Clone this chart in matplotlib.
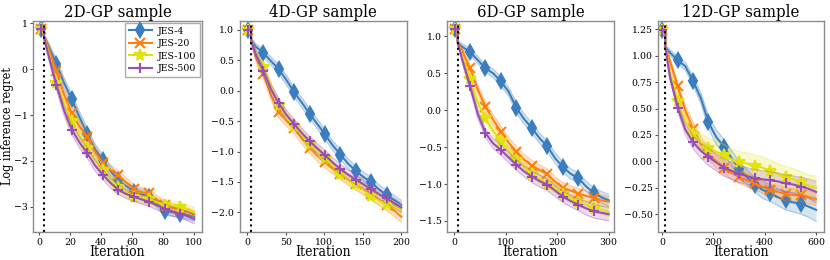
import numpy as np
import matplotlib
matplotlib.use("Agg")
import matplotlib.pyplot as plt

plt.rcParams['font.family'] = ['DejaVu Serif']
plt.rcParams['font.stretch'] = 'condensed'
plt.rcParams['mathtext.fontset'] = 'dejavuserif'

labels = ["JES-4", "JES-20", "JES-100", "JES-500"]
titles = ["2D-GP sample", "4D-GP sample", "6D-GP sample", "12D-GP sample"]
dims = [2, 4, 6, 12]

# ---------------- 2D ----------------
x2 = [1, 3, 3, 6, 11, 16, 21, 26, 31, 36, 41, 46, 51, 56, 61, 66, 71, 76, 81, 86, 91, 96, 100]
m2_jes4 = [0.87, 0.87, 0.72, 0.50, 0.12, -0.30, -0.66, -1.05, -1.41, -1.75, -1.98, -2.22, -2.42, -2.55, -2.67, -2.72, -2.78, -2.92, -3.09, -3.12, -3.15, -3.18, -3.22]
m2_jes20 = [0.87, 0.87, 0.72, 0.45, -0.05, -0.55, -0.96, -1.25, -1.47, -1.80, -2.05, -2.20, -2.31, -2.47, -2.61, -2.68, -2.71, -2.85, -2.96, -3.02, -3.07, -3.12, -3.17]
m2_jes100 = [0.87, 0.87, 0.70, 0.35, -0.30, -0.75, -1.14, -1.45, -1.71, -1.98, -2.20, -2.40, -2.56, -2.68, -2.78, -2.80, -2.84, -2.90, -2.96, -2.98, -3.00, -3.06, -3.12]
m2_jes500 = [0.87, 0.87, 0.70, 0.30, -0.34, -0.90, -1.32, -1.60, -1.83, -2.10, -2.30, -2.48, -2.63, -2.72, -2.78, -2.84, -2.89, -2.97, -3.04, -3.10, -3.15, -3.21, -3.27]
s2_jes4 = [0.04, 0.04, 0.06, 0.08, 0.10, 0.11, 0.12, 0.12, 0.12, 0.12, 0.11, 0.11, 0.10, 0.10, 0.10, 0.10, 0.10, 0.09, 0.09, 0.09, 0.09, 0.09, 0.09]
s2_jes20 = [0.04, 0.04, 0.06, 0.08, 0.10, 0.11, 0.12, 0.12, 0.12, 0.12, 0.11, 0.11, 0.10, 0.10, 0.10, 0.10, 0.10, 0.09, 0.09, 0.09, 0.09, 0.09, 0.09]
s2_jes100 = [0.04, 0.04, 0.06, 0.08, 0.10, 0.11, 0.12, 0.12, 0.12, 0.12, 0.11, 0.11, 0.10, 0.10, 0.10, 0.10, 0.10, 0.10, 0.10, 0.10, 0.10, 0.10, 0.10]
s2_jes500 = [0.04, 0.04, 0.06, 0.08, 0.10, 0.11, 0.12, 0.12, 0.12, 0.12, 0.11, 0.11, 0.10, 0.10, 0.10, 0.10, 0.10, 0.10, 0.10, 0.10, 0.10, 0.10, 0.10]

# ---------------- 4D ----------------
x4 = [1, 5, 5, 11, 21, 31, 41, 51, 61, 71, 81, 91, 101, 111, 121, 131, 141, 151, 161, 171, 181, 191, 200]
m4_jes4 = [1.00, 1.00, 0.83, 0.72, 0.62, 0.48, 0.35, 0.17, -0.03, -0.20, -0.38, -0.55, -0.72, -0.90, -1.05, -1.20, -1.32, -1.42, -1.50, -1.62, -1.72, -1.80, -1.88]
m4_jes20 = [1.00, 1.00, 0.83, 0.55, 0.27, -0.08, -0.36, -0.50, -0.62, -0.79, -0.94, -1.07, -1.18, -1.28, -1.37, -1.46, -1.54, -1.62, -1.70, -1.79, -1.88, -1.97, -2.07]
m4_jes100 = [1.00, 1.00, 0.83, 0.62, 0.38, 0.05, -0.24, -0.43, -0.58, -0.73, -0.87, -0.99, -1.10, -1.24, -1.37, -1.45, -1.53, -1.63, -1.73, -1.80, -1.86, -1.91, -1.96]
m4_jes500 = [1.00, 1.00, 0.83, 0.60, 0.32, 0.02, -0.21, -0.40, -0.55, -0.70, -0.83, -0.95, -1.06, -1.18, -1.29, -1.38, -1.46, -1.54, -1.62, -1.70, -1.77, -1.85, -1.92]
s4_jes4 = [0.02, 0.02, 0.04, 0.05, 0.06, 0.07, 0.07, 0.08, 0.08, 0.08, 0.08, 0.08, 0.08, 0.08, 0.08, 0.08, 0.08, 0.08, 0.08, 0.08, 0.08, 0.08, 0.08]
s4_jes20 = [0.02, 0.02, 0.04, 0.06, 0.07, 0.08, 0.09, 0.09, 0.09, 0.09, 0.09, 0.09, 0.09, 0.09, 0.09, 0.09, 0.09, 0.09, 0.09, 0.09, 0.09, 0.09, 0.09]
s4_jes100 = [0.02, 0.02, 0.04, 0.06, 0.07, 0.08, 0.08, 0.08, 0.08, 0.08, 0.08, 0.08, 0.08, 0.08, 0.08, 0.08, 0.08, 0.08, 0.08, 0.08, 0.08, 0.08, 0.08]
s4_jes500 = [0.02, 0.02, 0.04, 0.06, 0.07, 0.08, 0.08, 0.08, 0.08, 0.08, 0.08, 0.08, 0.08, 0.08, 0.08, 0.08, 0.08, 0.08, 0.08, 0.08, 0.08, 0.08, 0.08]

# ---------------- 6D ----------------
x6 = [1, 7, 7, 16, 31, 46, 61, 76, 91, 106, 121, 136, 151, 166, 181, 196, 211, 226, 241, 256, 271, 286, 300]
m6_jes4 = [1.10, 1.10, 0.92, 0.86, 0.79, 0.68, 0.57, 0.50, 0.39, 0.25, 0.03, -0.12, -0.24, -0.38, -0.49, -0.65, -0.77, -0.86, -0.92, -1.03, -1.12, -1.18, -1.22]
m6_jes20 = [1.10, 1.10, 0.92, 0.80, 0.57, 0.28, 0.05, -0.13, -0.29, -0.44, -0.56, -0.67, -0.75, -0.81, -0.87, -0.97, -1.05, -1.09, -1.13, -1.16, -1.19, -1.22, -1.24]
m6_jes100 = [1.10, 1.10, 0.92, 0.72, 0.42, 0.10, -0.11, -0.28, -0.41, -0.55, -0.67, -0.77, -0.86, -0.93, -1.00, -1.06, -1.13, -1.19, -1.24, -1.28, -1.32, -1.35, -1.38]
m6_jes500 = [1.10, 1.10, 0.92, 0.68, 0.33, -0.05, -0.31, -0.45, -0.54, -0.64, -0.74, -0.83, -0.90, -0.96, -1.01, -1.09, -1.17, -1.23, -1.28, -1.33, -1.37, -1.39, -1.41]
s6_jes4 = [0.02, 0.02, 0.03, 0.04, 0.05, 0.05, 0.05, 0.06, 0.06, 0.06, 0.07, 0.07, 0.07, 0.07, 0.07, 0.07, 0.07, 0.07, 0.07, 0.07, 0.07, 0.08, 0.08]
s6_jes20 = [0.02, 0.02, 0.03, 0.04, 0.05, 0.06, 0.06, 0.07, 0.07, 0.07, 0.07, 0.07, 0.07, 0.07, 0.07, 0.07, 0.07, 0.07, 0.07, 0.07, 0.07, 0.07, 0.07]
s6_jes100 = [0.02, 0.02, 0.03, 0.04, 0.05, 0.06, 0.06, 0.06, 0.06, 0.06, 0.06, 0.06, 0.06, 0.06, 0.06, 0.06, 0.06, 0.06, 0.06, 0.06, 0.06, 0.06, 0.06]
s6_jes500 = [0.02, 0.02, 0.03, 0.04, 0.05, 0.06, 0.06, 0.07, 0.07, 0.07, 0.07, 0.07, 0.08, 0.08, 0.08, 0.08, 0.08, 0.08, 0.08, 0.09, 0.09, 0.09, 0.09]

# ---------------- 12D ----------------
x12 = [1, 13, 13, 31, 61, 91, 121, 151, 181, 211, 241, 271, 301, 331, 361, 391, 421, 451, 481, 511, 541, 571, 600]
m12_jes4 = [1.24, 1.24, 1.08, 1.03, 0.96, 0.90, 0.76, 0.60, 0.37, 0.23, 0.14, 0.03, -0.07, -0.15, -0.22, -0.27, -0.30, -0.34, -0.37, -0.39, -0.40, -0.43, -0.46]
m12_jes20 = [1.24, 1.24, 1.08, 0.95, 0.71, 0.48, 0.31, 0.17, 0.07, 0.00, -0.06, -0.11, -0.15, -0.18, -0.21, -0.24, -0.27, -0.29, -0.31, -0.32, -0.32, -0.34, -0.36]
m12_jes100 = [1.24, 1.24, 1.08, 0.85, 0.57, 0.38, 0.26, 0.18, 0.13, 0.09, 0.06, 0.02, -0.01, -0.02, -0.04, -0.06, -0.09, -0.12, -0.15, -0.17, -0.20, -0.23, -0.25]
m12_jes500 = [1.24, 1.24, 1.08, 0.80, 0.51, 0.30, 0.18, 0.10, 0.04, -0.01, -0.06, -0.09, -0.12, -0.14, -0.16, -0.17, -0.18, -0.19, -0.21, -0.22, -0.24, -0.26, -0.29]
s12_jes4 = [0.02, 0.02, 0.02, 0.03, 0.03, 0.04, 0.04, 0.05, 0.06, 0.07, 0.07, 0.07, 0.07, 0.07, 0.07, 0.08, 0.08, 0.08, 0.09, 0.09, 0.10, 0.10, 0.11]
s12_jes20 = [0.02, 0.02, 0.02, 0.03, 0.04, 0.05, 0.06, 0.06, 0.06, 0.06, 0.06, 0.06, 0.06, 0.06, 0.06, 0.06, 0.06, 0.06, 0.06, 0.06, 0.06, 0.06, 0.06]
s12_jes100 = [0.02, 0.02, 0.02, 0.03, 0.05, 0.06, 0.07, 0.08, 0.09, 0.10, 0.10, 0.10, 0.10, 0.10, 0.10, 0.10, 0.10, 0.10, 0.10, 0.10, 0.10, 0.10, 0.11]
s12_jes500 = [0.02, 0.02, 0.02, 0.03, 0.04, 0.05, 0.06, 0.07, 0.08, 0.08, 0.08, 0.08, 0.08, 0.08, 0.08, 0.08, 0.08, 0.08, 0.08, 0.08, 0.09, 0.09, 0.10]

panels = [
    (x2, [m2_jes4, m2_jes20, m2_jes100, m2_jes500], [s2_jes4, s2_jes20, s2_jes100, s2_jes500]),
    (x4, [m4_jes4, m4_jes20, m4_jes100, m4_jes500], [s4_jes4, s4_jes20, s4_jes100, s4_jes500]),
    (x6, [m6_jes4, m6_jes20, m6_jes100, m6_jes500], [s6_jes4, s6_jes20, s6_jes100, s6_jes500]),
    (x12, [m12_jes4, m12_jes20, m12_jes100, m12_jes500], [s12_jes4, s12_jes20, s12_jes100, s12_jes500]),
]
marker_steps = [10, 20, 30, 60]
xlims = [(-4, 105), (-9.5, 207), (-13.6, 310), (-15.5, 631)]
ylims = [(-3.55, 1.05), (-2.32, 1.14), (-1.65, 1.21), (-0.67, 1.33)]
yticks = [[-3, -2, -1, 0, 1], [-2.0, -1.5, -1.0, -0.5, 0.0, 0.5, 1.0],
          [-1.5, -1.0, -0.5, 0.0, 0.5, 1.0], [-0.5, -0.25, 0.0, 0.25, 0.5, 0.75, 1.0, 1.25]]
xticks = [[0, 20, 40, 60, 80, 100], [0, 50, 100, 150, 200], [0, 100, 200, 300], [0, 200, 400, 600]]

colors = ['#3a7ebf', '#ff7f0e', '#e2e20a', '#9b4fb5']
markers = ['d', 'x', '*', '+']
msizes = [7.5, 6.5, 8.5, 7.5]

fig = plt.figure(figsize=(8.3, 2.6), dpi=100)
lefts = [0.0398, 0.289, 0.5386, 0.7928]
widths = [0.2036, 0.201, 0.201, 0.200]
bottom = 1 - 232 / 260
top = 1 - 21 / 260

for p, (x, means, sds) in enumerate(panels):
    ax = fig.add_axes([lefts[p], bottom, widths[p], top - bottom])
    xa = np.array(x, dtype=float)
    mk = np.arange(1, int(xa.max()) + 1, marker_steps[p])
    idx = [int(np.where(xa == v)[0][0]) for v in mk]
    for k in range(4):
        m = np.array(means[k])
        s = np.array(sds[k])
        c = colors[k]
        ax.fill_between(xa, m - s, m + s, color=c, alpha=0.2, lw=0)
        ax.plot(xa, m - s, color=c, alpha=0.35, lw=0.8)
        ax.plot(xa, m + s, color=c, alpha=0.35, lw=0.8)
        ax.plot(xa, m, color=c, lw=1.5, marker=markers[k], ms=msizes[k],
                mew=1.5, markevery=idx, label=labels[k])
    ax.axvline(dims[p] + 1, color='black', ls=':', lw=1.5)
    ax.set_xlim(*xlims[p])
    ax.set_ylim(*ylims[p])
    ax.set_yticks(yticks[p])
    ax.set_xticks(xticks[p])
    ax.tick_params(labelsize=7.5, length=2.5, width=0.8, color='0.3', pad=1.5)
    for sp in ax.spines.values():
        sp.set_color('0.55')
        sp.set_linewidth(1.0)
    ax.set_title(titles[p], fontsize=12, pad=2)
    ax.set_xlabel("Iteration", fontsize=10, labelpad=-1)
    if p == 0:
        ax.set_ylabel("Log inference regret", fontsize=9)
        ax.yaxis.set_label_coords(-0.11, 0.5)
        leg = ax.legend(loc='upper right', fontsize=7.5, frameon=True, fancybox=False,
                        borderpad=0.4, labelspacing=0.3, handlelength=2.2,
                        handletextpad=0.6, borderaxespad=0.15)
        leg.get_frame().set_edgecolor('0.6')

fig.savefig("out.png", dpi=100)
